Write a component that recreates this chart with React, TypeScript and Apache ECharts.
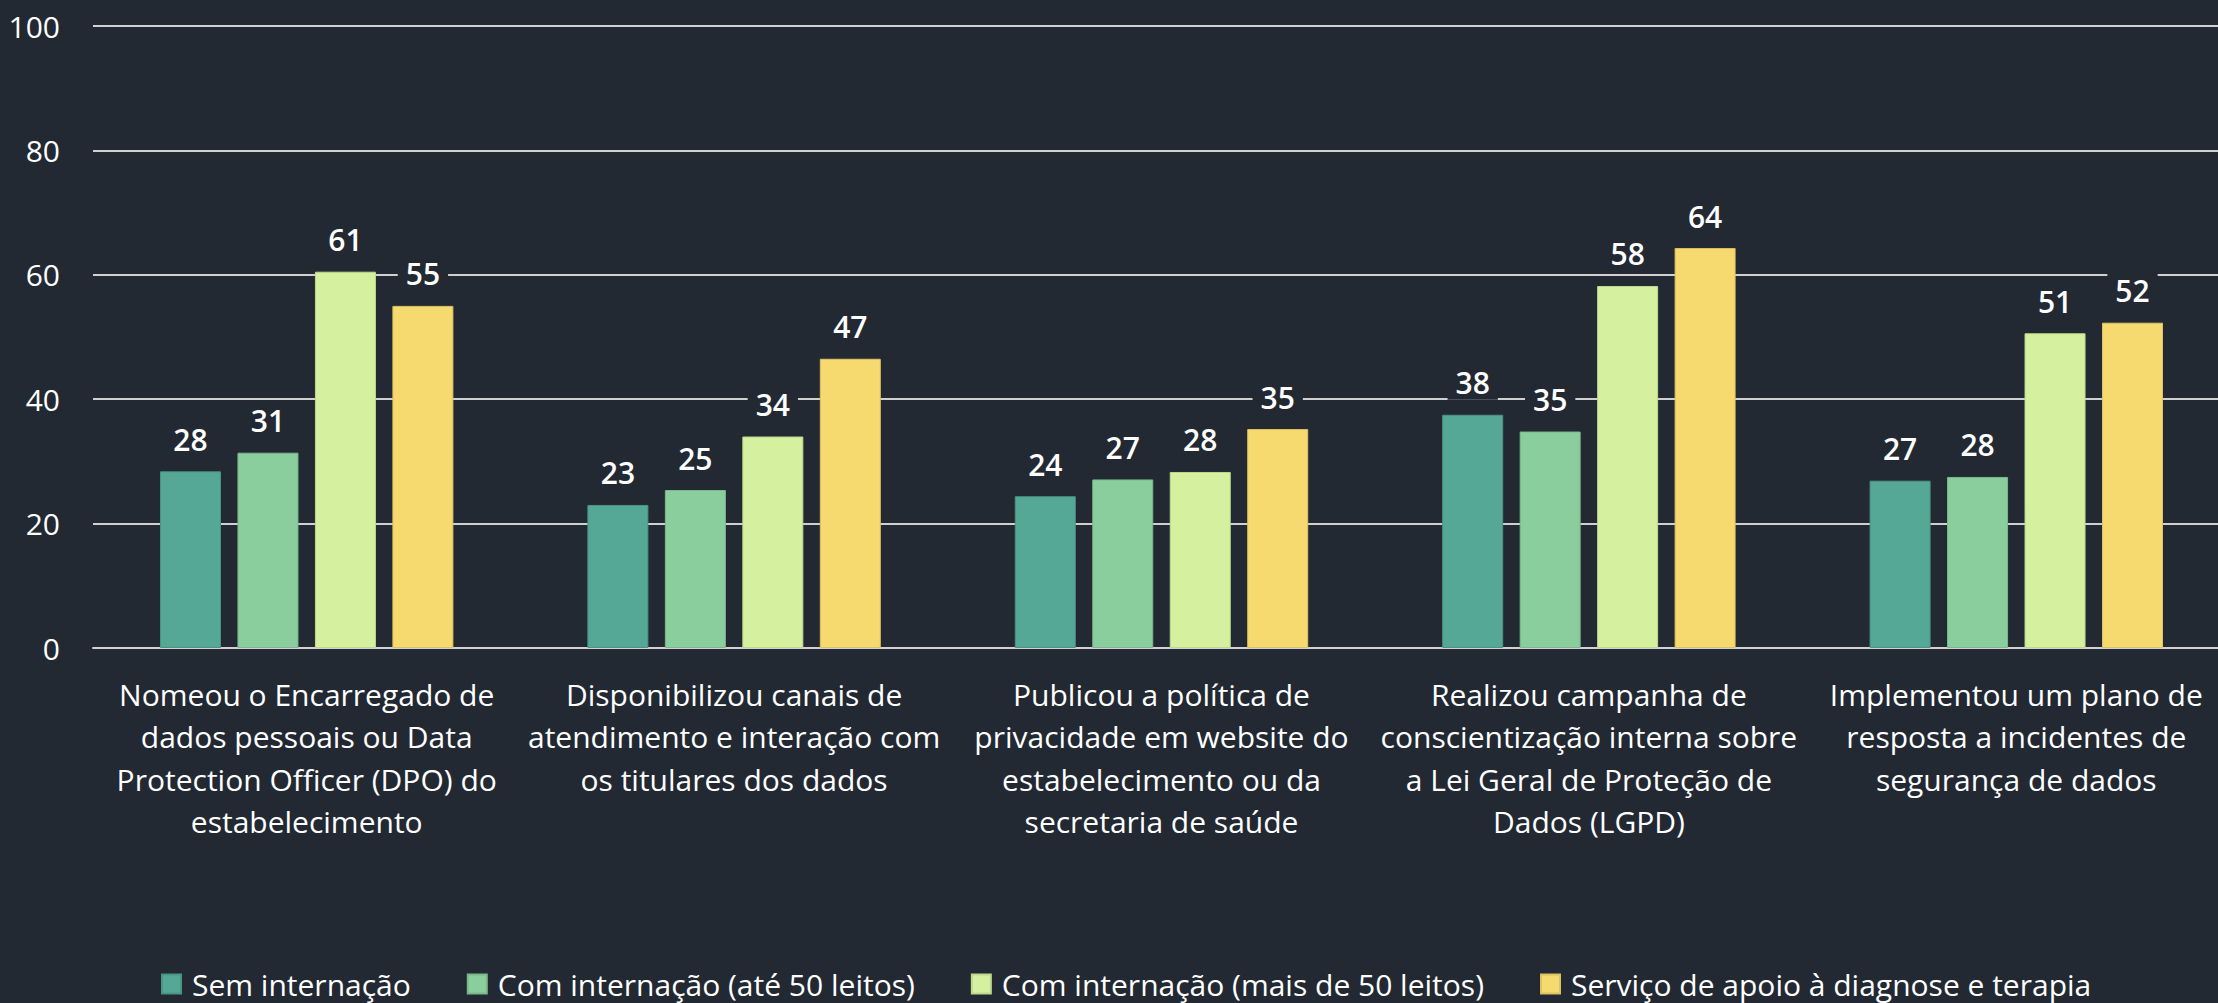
import React, { useEffect, useRef } from "react";
import * as echarts from "echarts";

const categories = [
  "Nomeou o Encarregado de\ndados pessoais ou Data\nProtection Officer (DPO) do\nestabelecimento",
  "Disponibilizou canais de\natendimento e interação com\nos titulares dos dados",
  "Publicou a política de\nprivacidade em website do\nestabelecimento ou da\nsecretaria de saúde",
  "Realizou campanha de\nconscientização interna sobre\na Lei Geral de Proteção de\nDados (LGPD)",
  "Implementou um plano de\nresposta a incidentes de\nsegurança de dados",
];

const seriesNames = [
  "Sem internação",
  "Com internação (até 50 leitos)",
  "Com internação (mais de 50 leitos)",
  "Serviço de apoio à diagnose e terapia",
];

const semInternacao = [28.4, 23.0, 24.4, 37.5, 26.9];
const comAte50 = [31.4, 25.4, 27.1, 34.8, 27.5];
const comMais50 = [60.5, 34.0, 28.3, 58.2, 50.6];
const servicoApoio = [55.0, 46.5, 35.2, 64.3, 52.3];

const yTicks = { min: 0, max: 100, interval: 20 };

const colors = ["#56A896", "#8BCE9D", "#D5F09F", "#F6DA6F"];
const borders = ["#4A9484", "#7BB88C", "#BFD98C", "#DCC262"];
const BG = "#222933";
const FONT = "'Segoe UI', 'Open Sans', sans-serif";

export default function App() {
  const ref = useRef<HTMLDivElement>(null);
  useEffect(() => {
    if (!ref.current) return;
    const chart = echarts.init(ref.current, null, { renderer: "svg" });
    const values = [semInternacao, comAte50, comMais50, servicoApoio];
    chart.setOption({
      animation: false,
      backgroundColor: BG,
      textStyle: { fontFamily: FONT },
      grid: { left: 93, top: 26, bottom: 355, right: 0, containLabel: false },
      legend: {
        left: 156,
        top: 964,
        itemWidth: 19,
        itemHeight: 19,
        itemGap: 56,
        icon: "rect",
        textStyle: { color: "#ffffff", fontSize: 30, fontFamily: FONT, padding: [0, 0, 0, 6] },
        data: seriesNames,
      },
      xAxis: {
        type: "category",
        data: categories,
        axisLine: { show: true, lineStyle: { color: "#d0d0d0", width: 2 } },
        axisTick: { show: false },
        axisLabel: {
          color: "#ffffff",
          fontSize: 30,
          lineHeight: 42.5,
          margin: 25,
          interval: 0,
          align: "center",
          fontFamily: FONT,
        },
      },
      yAxis: {
        type: "value",
        min: yTicks.min,
        max: yTicks.max,
        interval: yTicks.interval,
        axisLine: { show: false },
        axisTick: { show: false },
        splitLine: { lineStyle: { color: "#d0d0d0", width: 2 } },
        axisLabel: { color: "#ffffff", fontSize: 30, margin: 33, fontFamily: FONT },
      },
      series: values.map((v, i) => ({
        name: seriesNames[i],
        type: "bar",
        data: v,
        barWidth: 61,
        barGap: "27%",
        itemStyle: { color: colors[i], borderColor: borders[i], borderWidth: 1 },
        label: {
          show: true,
          position: "top",
          distance: 15,
          color: "#ffffff",
          fontSize: 30,
          fontWeight: 600,
          fontFamily: FONT,
          backgroundColor: BG,
          padding: [2, 8],
          formatter: (p: any) => String(Math.round(p.value)),
        },
      })),
    });
    return () => chart.dispose();
  }, []);
  return (
    <div
      style={{
        position: "fixed",
        left: 0,
        top: 0,
        width: 2218,
        height: 1003,
        overflow: "hidden",
        background: BG,
      }}
    >
      <div ref={ref} style={{ width: 2230, height: 1003 }} />
    </div>
  );
}
